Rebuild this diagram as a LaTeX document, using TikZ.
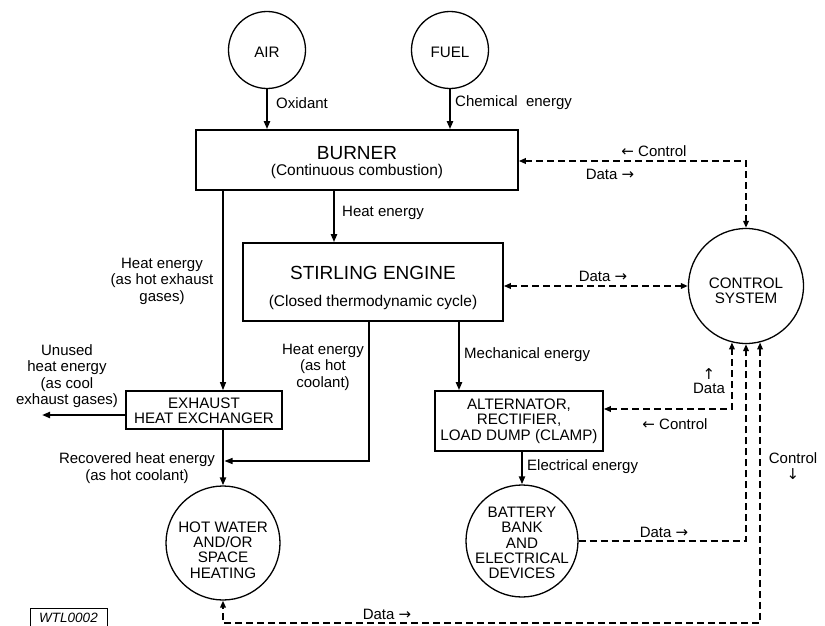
\documentclass[tikz,border=0pt]{standalone}
\usepackage{fontspec}
\setmainfont{Liberation Sans}
\newfontfamily\arrfont{DejaVu Sans}
\newcommand{\rarr}{{\arrfont →}}
\newcommand{\larr}{{\arrfont ←}}
\newcommand{\uarr}{{\arrfont ↑}}
\newcommand{\darr}{{\arrfont ↓}}
\usetikzlibrary{arrows.meta}
\begin{document}
\begin{tikzpicture}[x=1pt,y=-1pt,
  box/.style={draw, line width=1.6pt, inner sep=0pt, rectangle},
  circ/.style={draw, circle, line width=1.3pt, inner sep=0pt},
  flow/.style={line width=2.2pt, -{Triangle[length=8pt,width=6pt]}},
  thinflow/.style={line width=1.1pt, -{Triangle[length=8pt,width=6pt]}},
  ctl/.style={line width=1.8pt, dash pattern=on 7pt off 4pt},
  ctlboth/.style={ctl, {Triangle[length=7pt,width=5.5pt]}-{Triangle[length=7pt,width=5.5pt]}},
  ctlend/.style={ctl, -{Triangle[length=7pt,width=5.5pt]}},
  lbl/.style={font=\fontsize{15}{16.5}\selectfont, align=center, inner sep=0pt},
  intext/.style={font=\fontsize{15.2}{15.3}\selectfont, align=center, inner sep=0pt},
  ttl/.style={font=\fontsize{19}{19}\selectfont, inner sep=0pt},
  sub/.style={font=\fontsize{15.5}{16}\selectfont, inner sep=0pt}]
\useasboundingbox (0,0) rectangle (825,626);

% x positions of vertical connectors
\coordinate (xa) at (223,0);
\coordinate (xb) at (334,0);
\coordinate (xc) at (369,0);
\coordinate (xd) at (459,0);
\coordinate (xe) at (522,0);
\coordinate (jn) at (224.5,461);
\coordinate (outL) at (42,415);
\coordinate (botc) at (600,623);

% nodes
\node[circ, minimum size=77pt] (air) at (267,50) {};
\node[intext] (airT) at (267,52) {AIR};
\node[circ, minimum size=77pt] (fuel) at (450,50) {};
\node[intext] (fuelT) at (450,52) {FUEL};

\node[box, minimum width=322pt, minimum height=60pt] (burner) at (357,160) {};
\node[ttl] (burnerT) at (357,153) {BURNER};
\node[sub] (burnerS) at (357,171) {(Continuous combustion)};

\node[box, minimum width=260pt, minimum height=78pt] (stirling) at (373,282) {};
\node[ttl] (stirT) at (373,273) {STIRLING ENGINE};
\node[sub] (stirS) at (373,302) {(Closed thermodynamic cycle)};

\node[box, minimum width=156pt, minimum height=38pt] (exhx) at (204,410) {};
\node[intext] (exhxT) at (204,411) {EXHAUST\\HEAT EXCHANGER};

\node[box, minimum width=168pt, minimum height=60pt] (alt) at (519,421) {};
\node[intext] (altT) at (519,421) {ALTERNATOR,\\RECTIFIER,\\LOAD DUMP (CLAMP)};

\node[circ, minimum size=114pt] (hot) at (223,543) {};
\node[intext] (hotT) at (223,550) {HOT WATER\\AND/OR\\SPACE\\HEATING};

\node[circ, minimum size=112pt] (batt) at (522,541) {};
\node[intext] (battT) at (522,543) {BATTERY\\BANK\\AND\\ELECTRICAL\\DEVICES};

\node[circ, minimum size=115pt] (ctrl) at (746,286) {};
\node[intext] (ctrlT) at (746,291) {CONTROL\\SYSTEM};

\node[font=\itshape\fontsize{13.5}{14}\selectfont, inner sep=0pt] (wtl) at (68.5,618) {WTL0002};
\draw[line width=0.8pt] (30,628) |- (107,608) -- (107,628);

% energy flows
\draw[flow] (air) -- (air |- burner.north);
\draw[flow] (fuel) -- (fuel |- burner.north);
\draw[flow] (burner.south -| xb) -- (stirling.north -| xb);
\draw[thinflow] (burner.south -| xa) -- (exhx.north -| xa);
\draw[thinflow] (stirling.south -| xc) |- (jn);
\draw[flow] (stirling.south -| xd) -- (alt.north -| xd);
\draw[flow] (exhx.west |- outL) -- (outL);
\draw[flow] (exhx.south -| xa) -- (hot.north);
\draw[flow] (alt.south -| xe) -- (batt.north);

% control / data lines
\draw[ctlboth] ([yshift=-1pt]burner.east) -| (ctrl.north);
\draw[ctlboth] (stirling.east |- ctrl.west) -- (ctrl.west);
\draw[ctlboth] ([yshift=12pt]alt.east) -| (ctrl.-104);
\draw[ctlend] (batt.east) -| (ctrl.-90);
\draw[ctlboth] (ctrl.-76) |- (botc) -| (hot.south);

% labels
\node[lbl, anchor=west] (lOx) at (276,103) {Oxidant};
\node[lbl, anchor=west] (lChem) at (455,103) {Chemical\ \ energy};
\node[lbl, anchor=west] (lHeat) at (342,213) {Heat energy};
\node[lbl] (lHex) at (162,281) {Heat energy\\(as hot exhaust\\gases)};
\node[lbl] (lUn) at (67,376) {Unused\\heat energy\\(as cool\\exhaust gases)};
\node[lbl] (lCool) at (323,367) {Heat energy\\(as hot\\coolant)};
\node[lbl] (lRec) at (137,468) {Recovered heat energy\\(as hot coolant)};
\node[lbl, anchor=west] (lMech) at (464,355) {Mechanical energy};
\node[lbl, anchor=west] (lElec) at (527,467) {Electrical energy};
\node[lbl] (lC1) at (654,151) {\larr\ Control};
\node[lbl] (lD1) at (610,174) {Data \rarr};
\node[lbl] (lD2) at (603,276) {Data \rarr};
\node[lbl] (lD3) at (709,381) {\uarr\\[-2pt]Data};
\node[lbl] (lC2) at (675,424) {\larr\ Control};
\node[lbl] (lD4) at (664,532) {Data \rarr};
\node[lbl] (lC3) at (793,466) {Control\\[-1pt]\darr};
\node[lbl] (lD5) at (387,614) {Data \rarr};
\end{tikzpicture}
\end{document}
